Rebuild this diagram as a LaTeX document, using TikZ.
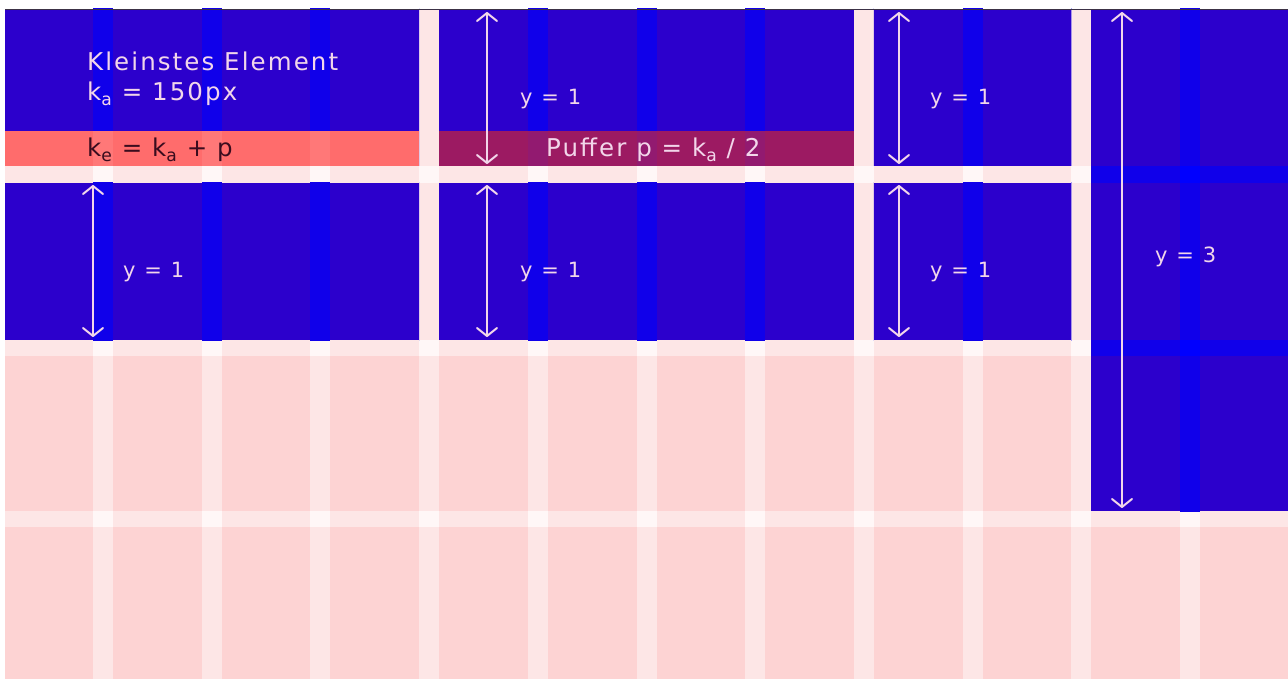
\documentclass[tikz,border=0pt]{standalone}
\usepackage{fontspec}
\setmainfont{DejaVu Sans}
\newfontfamily\labfont[LetterSpace=8.5]{DejaVu Sans}
\newfontfamily\yfont[LetterSpace=10]{DejaVu Sans}
\usetikzlibrary{arrows.meta}

\definecolor{bgpink}{RGB}{253,211,211}
\definecolor{gutpink}{RGB}{253,230,230}
\definecolor{crosswhite}{RGB}{255,247,247}
\definecolor{elblue}{RGB}{44,0,204}
\definecolor{stripeblue}{RGB}{16,0,234}
\definecolor{crossblue}{RGB}{0,0,255}
\definecolor{salmon}{RGB}{255,108,108}
\definecolor{salmonstripe}{RGB}{255,120,120}
\definecolor{maroon}{RGB}{156,26,98}
\definecolor{maroonstripe}{RGB}{146,26,112}
\definecolor{labpink}{RGB}{242,214,234}
\definecolor{labdark}{RGB}{58,12,30}
\definecolor{edgegray}{RGB}{60,50,70}

% lowered, smaller index letter
\newcommand{\lowidx}[1]{\raisebox{-0.18em}{\scalebox{0.7}{#1}}}

\tikzset{
  elbox/.style={fill=elblue, draw=none, inner sep=0pt, outer sep=0pt, anchor=north west},
  strip/.style={draw=none, inner sep=0pt, outer sep=0pt, anchor=north west},
  labtext/.style={text=labpink, inner sep=0pt, anchor=base west, font=\labfont\fontsize{24.5}{29}\selectfont},
  ytext/.style={text=labpink, inner sep=0pt, anchor=base west, font=\yfont\fontsize{21}{25}\selectfont},
  dimarrow/.style={draw=labpink, line width=2pt,
    {Straight Barb[length=8pt,width=20pt,round]}-{Straight Barb[length=8pt,width=20pt,round]}}
}

\begin{document}
\begin{tikzpicture}[x=1pt,y=-1pt]
\useasboundingbox (0,0) rectangle (1288,679);
\fill[white] (0,0) rectangle (1288,679);

% base grid: pink field, lighter gutters, white crossings
\fill[bgpink] (5,9) rectangle (1288,679);
\foreach \i in {0,...,10}
  \fill[gutpink] ({93+108.7*\i},9) rectangle ({113+108.7*\i},679);
\foreach \a/\b in {166/183,340/356,511/527}
  \fill[gutpink] (5,\a) rectangle (1288,\b);
\foreach \i in {0,...,10}
  \foreach \a/\b in {166/183,340/356,511/527}
    \fill[crosswhite] ({93+108.7*\i},\a) rectangle ({113+108.7*\i},\b);

% elements
\node[elbox, minimum width=414.1pt, minimum height=157pt] (A) at (5,9) {};
\node[elbox, minimum width=414.8pt, minimum height=157pt] (B) at (439.1,9) {};
\node[elbox, minimum width=197.4pt, minimum height=157pt] (C) at (873.9,9) {};
\node[elbox, minimum width=196.7pt, minimum height=502pt] (D) at (1091.3,9) {};
\node[elbox, minimum width=414.1pt, minimum height=157pt] (E) at (5,183) {};
\node[elbox, minimum width=414.8pt, minimum height=157pt] (F) at (439.1,183) {};
\node[elbox, minimum width=197.4pt, minimum height=157pt] (G) at (873.9,183) {};

% column gutters shining through the elements
\foreach \n in {A,B,C,D,E,F,G}{
  \begin{scope}
    \clip (\n.north west) rectangle (\n.south east);
    \foreach \i in {0,...,10}
      \fill[stripeblue] ({93+108.7*\i},0) rectangle ({113+108.7*\i},679);
  \end{scope}
}
% row gutters inside the tall element
\begin{scope}
  \clip (D.north west) rectangle (D.south east);
  \foreach \a/\b in {166/183,340/356}{
    \fill[stripeblue] (1091.3,\a) rectangle (1288,\b);
    \fill[crossblue] (1180,\a) rectangle (1200,\b);
  }
\end{scope}

% element strip and buffer strip
\node[strip, fill=salmon, minimum width=414.1pt, minimum height=34.5pt] (KE) at (5,131.5) {};
\node[strip, fill=maroon, minimum width=414.8pt, minimum height=34.5pt] (PB) at (439.1,131.5) {};
\foreach \i in {0,1,2}
  \fill[salmonstripe] ({93+108.7*\i},131.5) rectangle ({113+108.7*\i},166);
\foreach \i in {4,5,6}
  \fill[maroonstripe] ({93+108.7*\i},131.5) rectangle ({113+108.7*\i},166);

% top border line
\draw[edgegray, line width=0.8pt] (5,9.2) -- (1288,9.2);

% texts
\node[labtext] (title) at (87,71) {Kleinstes Element};
\node[labtext] (ka) at (87,101) {k\lowidx{a} = 150px};
\node[labtext, text=labdark] (ke) at (87,157) {k\lowidx{e} = k\lowidx{a} + p};
\node[labtext] (puffer) at (546,157) {Puffer p = k\lowidx{a} / 2};

\node[ytext] (yB) at (520,105) {y = 1};
\node[ytext] (yC) at (930,105) {y = 1};
\node[ytext] (yE) at (123,277) {y = 1};
\node[ytext] (yF) at (520,277) {y = 1};
\node[ytext] (yG) at (930,277) {y = 1};
\node[ytext] (yD) at (1155,262) {y = 3};

% height arrows
\coordinate (bt) at (487,12);   \coordinate (bb) at (487,164);
\coordinate (ct) at (899,12);   \coordinate (cb) at (899,164);
\coordinate (dt) at (1122,12);  \coordinate (db) at (1122,508);
\coordinate (et) at (93,185);   \coordinate (eb) at (93,337);
\coordinate (ft) at (487,185);  \coordinate (fb) at (487,337);
\coordinate (gt) at (899,185);  \coordinate (gb) at (899,337);
\draw[dimarrow] (bt) -- (bb);
\draw[dimarrow] (ct) -- (cb);
\draw[dimarrow] (dt) -- (db);
\draw[dimarrow] (et) -- (eb);
\draw[dimarrow] (ft) -- (fb);
\draw[dimarrow] (gt) -- (gb);
\end{tikzpicture}
\end{document}
